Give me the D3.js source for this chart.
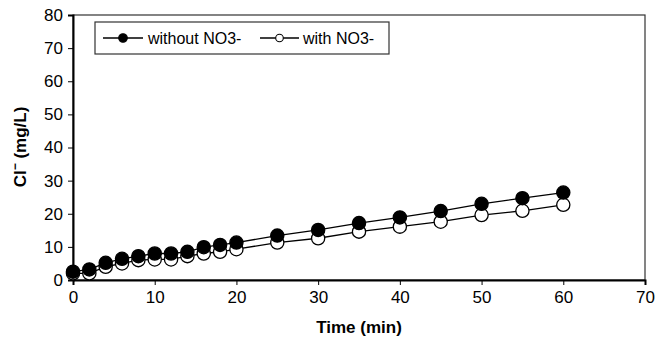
<!DOCTYPE html>
<html>
<head>
<meta charset="utf-8">
<script src="https://cdn.jsdelivr.net/npm/d3@7"></script>
<style>
  html, body { margin: 0; padding: 0; background: #fff; }
  svg { display: block; font-family: "Liberation Sans", Arial, sans-serif; }
</style>
</head>
<body>
<svg id="chart" width="656" height="344"></svg>
<script>
// time points (min)
const times = [0, 2, 4, 6, 8, 10, 12, 14, 16, 18, 20, 25, 30, 35, 40, 45, 50, 55, 60];
// Cl- concentration (mg/L)
const withoutNO3 = [2.5, 3.2, 5.2, 6.4, 7.2, 8.0, 8.0, 8.5, 9.9, 10.6, 11.3, 13.4, 15.1, 17.2, 18.9, 20.8, 23.0, 24.7, 26.4];
const withNO3 = [2.0, 2.0, 4.0, 5.0, 6.0, 6.2, 6.2, 7.2, 8.0, 8.5, 9.3, 11.3, 12.6, 14.6, 16.1, 17.6, 19.6, 20.9, 22.7];
const xTicks = [0, 10, 20, 30, 40, 50, 60, 70];
const yTicks = [0, 10, 20, 30, 40, 50, 60, 70, 80];

const series = [
  { name: "without NO3-", values: withoutNO3, fill: "#000" },
  { name: "with NO3-", values: withNO3, fill: "#fff" }
];

const svg = d3.select("#chart");
const m = { left: 73, right: 11, top: 15, bottom: 64 };
const W = 656, H = 344;

const x = d3.scaleLinear().domain([0, 70]).range([m.left, W - m.right]);
const y = d3.scaleLinear().domain([0, 80]).range([H - m.bottom, m.top]);

// frame (top/right)
svg.append("rect")
  .attr("x", x(0)).attr("y", y(80))
  .attr("width", x(70) - x(0)).attr("height", y(0) - y(80))
  .attr("fill", "none").attr("stroke", "#333").attr("stroke-width", 1.2);

const xAxis = svg.append("g")
  .attr("transform", `translate(0,${y(0)})`)
  .call(d3.axisBottom(x).tickValues(xTicks).tickSize(5).tickPadding(6));
const yAxis = svg.append("g")
  .attr("transform", `translate(${x(0)},0)`)
  .call(d3.axisLeft(y).tickValues(yTicks).tickSize(5).tickPadding(5));

[xAxis, yAxis].forEach(a => {
  a.select(".domain").attr("stroke", "#000").attr("stroke-width", 2);
  a.selectAll(".tick line").attr("stroke", "#000");
  a.selectAll(".tick text")
    .attr("font-size", 17).attr("fill", "#000")
    .attr("font-family", "Liberation Sans, Arial, sans-serif");
});

// axis titles
svg.append("text")
  .attr("x", 359).attr("y", 333)
  .attr("text-anchor", "middle")
  .attr("font-size", 17).attr("font-weight", "bold")
  .text("Time (min)");

const yl = svg.append("text")
  .attr("transform", `translate(26,${147}) rotate(-90)`)
  .attr("text-anchor", "middle")
  .attr("font-size", 17).attr("font-weight", "bold");
yl.append("tspan").text("Cl");
yl.append("tspan").attr("baseline-shift", "super").attr("font-size", 12).text("−");
yl.append("tspan").text(" (mg/L)");

// lines and markers
const line = d3.line().x((d, i) => x(times[i])).y(d => y(d));

// draw open series first, then filled on top
[series[1], series[0]].forEach(s => {
  svg.append("path")
    .datum(s.values)
    .attr("d", line)
    .attr("fill", "none")
    .attr("stroke", "#000")
    .attr("stroke-width", 1.3);
  svg.append("g")
    .selectAll("circle")
    .data(s.values)
    .join("circle")
    .attr("cx", (d, i) => x(times[i]))
    .attr("cy", d => y(d))
    .attr("r", 6.6)
    .attr("fill", s.fill)
    .attr("stroke", "#000")
    .attr("stroke-width", 1.3);
});

// legend
const lg = svg.append("g");
lg.append("rect")
  .attr("x", 95).attr("y", 22).attr("width", 294).attr("height", 32)
  .attr("fill", "#fff").attr("stroke", "#333").attr("stroke-width", 1.2);

const legendItems = [
  { s: series[0], x0: 103, x1: 143, tx: 148 },
  { s: series[1], x0: 260, x1: 299, tx: 303 }
];
legendItems.forEach(it => {
  const cy = 38;
  lg.append("line")
    .attr("x1", it.x0).attr("x2", it.x1).attr("y1", cy).attr("y2", cy)
    .attr("stroke", "#000").attr("stroke-width", 1.3);
  lg.append("circle")
    .attr("cx", (it.x0 + it.x1) / 2).attr("cy", cy)
    .attr("r", it.s.fill === "#000" ? 4.3 : 3.8)
    .attr("fill", it.s.fill).attr("stroke", "#000").attr("stroke-width", 1.1);
  lg.append("text")
    .attr("x", it.tx).attr("y", cy + 6)
    .attr("font-size", 16).attr("fill", "#000")
    .text(it.s.name);
});
</script>
</body>
</html>
